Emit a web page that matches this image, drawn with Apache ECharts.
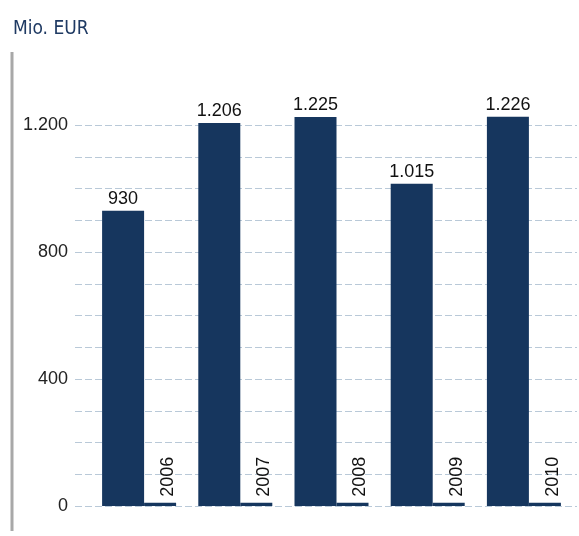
<!DOCTYPE html>
<html>
<head>
<meta charset="utf-8">
<script src="https://cdn.jsdelivr.net/npm/echarts@6/dist/echarts.min.js"></script>
<style>
  html, body { margin: 0; padding: 0; background: #fff; }
  #main { width: 579px; height: 536px; }
</style>
</head>
<body>
<div id="main"></div>
<script>
var years = ['2006', '2007', '2008', '2009', '2010'];
var revenue = [930, 1206, 1225, 1015, 1226];
// thin baseline marks next to each bar, carrying the year label
var baseMark = [10, 10, 10, 10, 10];
var yTicks = [0, 400, 800, 1200];

var chartDom = document.getElementById('main');
var myChart = echarts.init(chartDom);
var font = 'Liberation Sans, Arial, sans-serif';

function fmt(v) {
  return String(v).replace(/\B(?=(\d{3})+(?!\d))/g, '.');
}

var option = {
  animation: false,
  title: {
    text: 'Mio. EUR',
    left: 8,
    top: 15,
    textStyle: { color: '#1f3a63', fontSize: 19, fontWeight: 'normal', fontFamily: 'Liberation Sans Narrow, Arial Narrow, DejaVu Sans Condensed, sans-serif' }
  },
  graphic: [{
    type: 'line',
    shape: { x1: 12, y1: 52, x2: 12, y2: 531 },
    style: { stroke: '#a8a8a8', lineWidth: 3 }
  }],
  grid: [
    { left: 75, right: 2, top: 125, bottom: 30 },
    { left: 91, right: 7, top: 125, bottom: 30 }
  ],
  xAxis: [
    { gridIndex: 0, type: 'value', show: false },
    {
      gridIndex: 1, type: 'category', data: years,
      axisLine: { show: false }, axisTick: { show: false }, axisLabel: { show: false }
    }
  ],
  yAxis: [
    {
      gridIndex: 0, type: 'value', min: 0, max: 1200, interval: 100,
      axisLine: { show: false }, axisTick: { show: false },
      axisLabel: {
        margin: 7, color: '#222', fontSize: 18, fontFamily: font,
        formatter: function (v) { return yTicks.indexOf(v) >= 0 ? fmt(v) : ''; }
      },
      splitLine: { lineStyle: { color: '#b9c9d8', type: [7, 3], width: 1 } }
    },
    { gridIndex: 1, type: 'value', min: 0, max: 1200, show: false, splitLine: { show: false } }
  ],
  series: [
    {
      type: 'bar', xAxisIndex: 1, yAxisIndex: 1,
      data: revenue, barWidth: 42, barGap: '0%', clip: false,
      itemStyle: { color: '#16365e' },
      label: {
        show: true, position: 'top', distance: 3, color: '#111',
        fontSize: 18, fontFamily: font,
        formatter: function (p) { return fmt(p.value); }
      }
    },
    {
      type: 'bar', xAxisIndex: 1, yAxisIndex: 1,
      data: baseMark, barWidth: 32, clip: false,
      itemStyle: { color: '#16365e' },
      label: {
        show: true, position: 'top', rotate: 90, align: 'left', verticalAlign: 'middle',
        distance: 6, offset: [0, 8], color: '#111', fontSize: 18, fontFamily: font,
        formatter: function (p) { return years[p.dataIndex]; }
      }
    }
  ]
};

option && myChart.setOption(option);
</script>
</body>
</html>
